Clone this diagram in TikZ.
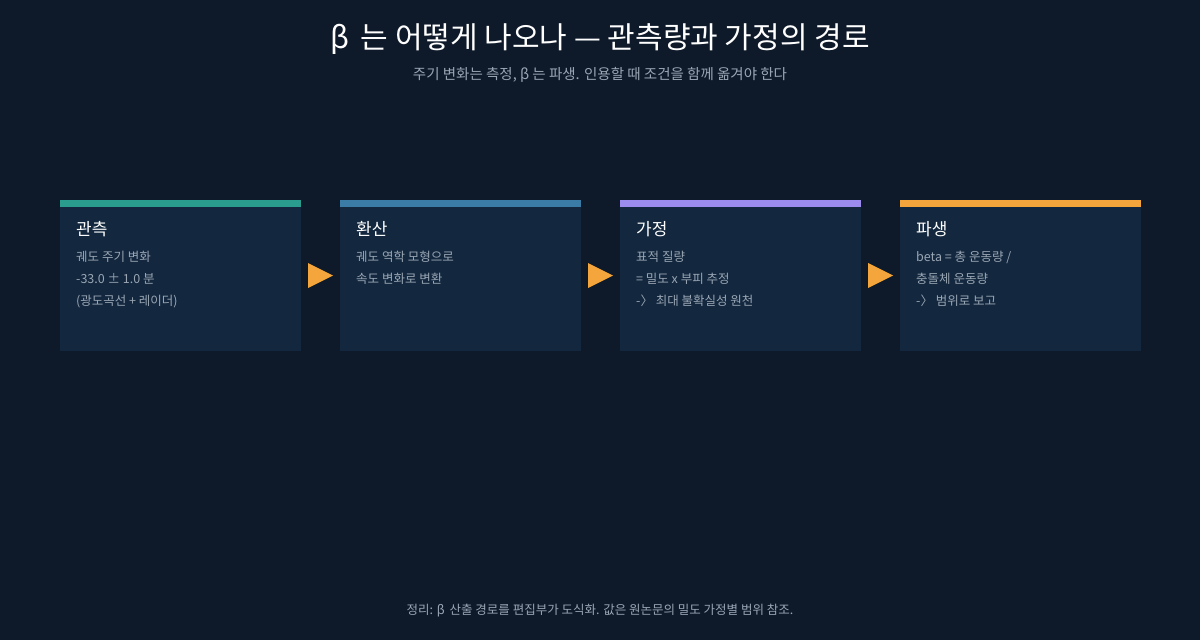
\documentclass[tikz,border=0pt]{standalone}
\usepackage{fontspec}
\setmainfont{Noto Sans CJK KR}
\begin{document}
\begin{tikzpicture}[x=1pt,y=-1pt,
  card/.style={fill=cardbg,draw=none},
  ttl/.style={anchor=west,text=white,font=\fontsize{17}{20}\selectfont,inner sep=0},
  body/.style={anchor=north west,text=bodyc,font=\fontsize{12.5}{22}\selectfont,align=left,inner sep=0},
  arr/.style={fill=arrowc,draw=none}]
\definecolor{bg}{HTML}{0E1A2A}
\definecolor{cardbg}{HTML}{13283F}
\definecolor{bodyc}{HTML}{9AA6B4}
\definecolor{subc}{HTML}{9AA6B4}
\definecolor{arrowc}{HTML}{F4A63C}
\definecolor{c1}{HTML}{2A9D8F}
\definecolor{c2}{HTML}{3A7CA5}
\definecolor{c3}{HTML}{9B8CEE}
\definecolor{c4}{HTML}{F4A63C}
\fill[bg] (0,0) rectangle (1200,640);
\useasboundingbox (0,0) rectangle (1200,640);
\node[text=white,font=\fontsize{30}{34}\selectfont] (title) at (600,39) {\textit{β}\, 는 어떻게 나오나 — 관측량과 가정의 경로};
\node[text=subc,font=\fontsize{14.5}{17}\selectfont] (sub) at (600,75) {주기 변화는 측정, β 는 파생. 인용할 때 조건을 함께 옮겨야 한다};
\foreach \i/\x/\c/\t/\b in {
 1/60/c1/관측/{궤도 주기 변화\\-33.0 ± 1.0 분\\(광도곡선 + 레이더)},
 2/340/c2/환산/{궤도 역학 모형으로\\속도 변화로 변환},
 3/620/c3/가정/{표적 질량\\= 밀도 x 부피 추정\\-〉 최대 불확실성 원천},
 4/900/c4/파생/{beta = 총 운동량 /\\충돌체 운동량\\-〉 범위로 보고}}{
  \fill[card] (\x,200) rectangle ++(241,151);
  \fill[\c] (\x,200) rectangle ++(241,7);
  \node[ttl] (t\i) at (\x+16,229) {\t};
  \node[body] (b\i) at (\x+16,251) {\b};
}
\foreach \x in {308,588,868}{
  \fill[arr] (\x,263) -- (\x+25,275.5) -- (\x,288) -- cycle;
}
\node[text=subc,font=\fontsize{12.5}{15}\selectfont] (foot) at (600,611) {정리: β\, 산출 경로를 편집부가 도식화. 값은 원논문의 밀도 가정별 범위 참조.};
\end{tikzpicture}
\end{document}
